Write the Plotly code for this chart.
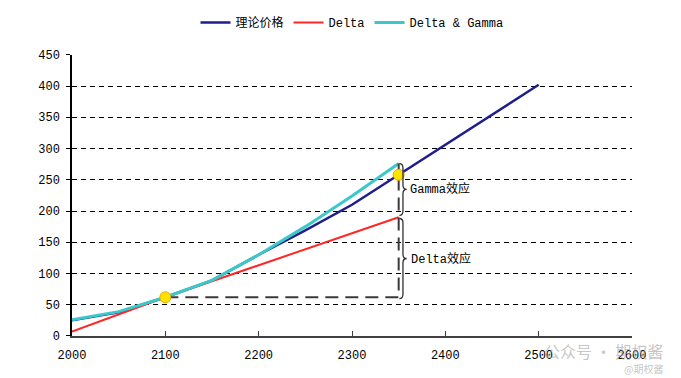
import plotly.graph_objects as go

# ---- data ----
x_theory = [2000, 2050, 2100, 2150, 2200, 2250, 2300, 2350, 2400, 2450, 2500]
y_theory = [25, 38, 62, 89, 130, 169, 210, 258, 305, 354, 402]

x_delta = [2000, 2100, 2350]
y_delta = [7, 62, 190]

x_dg = [2000, 2050, 2100, 2150, 2200, 2250, 2300, 2350]
y_dg = [26, 39, 62, 89, 130, 175, 224, 276]

x_base = 2100          # reference price point
x_move = 2350          # moved price point
y_ticks = [0, 50, 100, 150, 200, 250, 300, 350, 400, 450]
x_ticks = [2000, 2100, 2200, 2300, 2400, 2500, 2600]

names = ["理论价格", "Delta", "Delta & Gamma"]
colors = ["#1E1E8C", "#FF2626", "#3CC8CA"]

FONT = "Liberation Mono, Noto Sans CJK SC, monospace"

base_val = y_theory[x_theory.index(x_base)]
move_val = y_theory[x_theory.index(x_move)]
delta_end = y_delta[-1]
dg_end = y_dg[-1]

fig = go.Figure()
fig.add_trace(go.Scatter(x=x_theory, y=y_theory, mode="lines", name=names[0],
                         line=dict(color=colors[0], width=2.5)))
fig.add_trace(go.Scatter(x=x_delta, y=y_delta, mode="lines", name=names[1],
                         line=dict(color=colors[1], width=2)))
fig.add_trace(go.Scatter(x=x_dg, y=y_dg, mode="lines", name=names[2],
                         line=dict(color=colors[2], width=3)))

# dashed guide lines
fig.add_trace(go.Scatter(x=[x_base, x_move, x_move], y=[base_val, base_val, dg_end],
                         mode="lines", showlegend=False, hoverinfo="skip",
                         line=dict(color="#3A3A3A", width=2, dash="13px,7px")))

# yellow points
fig.add_trace(go.Scatter(x=[x_base, x_move], y=[base_val, move_val], mode="markers",
                         showlegend=False,
                         marker=dict(color="#FFE400", size=11,
                                     line=dict(color="#F0A500", width=1))))

# curly braces built from data values
def brace(top, bot):
    x0 = x_move + 0.8
    x1 = x_move + 4.6
    x2 = x_move + 8.6
    mid = (top + bot) / 2
    r = 7
    return (f"M {x0},{top} Q {x1},{top} {x1},{top - r} "
            f"L {x1},{mid + r} Q {x1},{mid} {x2},{mid} "
            f"Q {x1},{mid} {x1},{mid - r} "
            f"L {x1},{bot + r} Q {x1},{bot} {x0},{bot}")

fig.add_shape(type="path", path=brace(dg_end, delta_end + 3), xref="x", yref="y",
              line=dict(color="#303030", width=1.3))
fig.add_shape(type="path", path=brace(delta_end - 2, base_val - 2), xref="x", yref="y",
              line=dict(color="#303030", width=1.3))

fig.add_annotation(x=x_move + 8.6, y=(dg_end + delta_end + 3) / 2, text="Gamma效应",
                   showarrow=False, xanchor="left", xshift=1,
                   font=dict(family=FONT, size=12, color="#000000"))
fig.add_annotation(x=x_move + 8.6, y=(delta_end - 2 + base_val - 2) / 2, text="Delta效应",
                   showarrow=False, xanchor="left", xshift=2,
                   font=dict(family=FONT, size=12, color="#000000"))

# watermark
fig.add_annotation(xref="paper", yref="paper", x=1.059, y=-0.055, text="公众号 · 期权酱",
                   showarrow=False, xanchor="right", yanchor="middle",
                   font=dict(family="Noto Sans CJK SC", size=16, color="rgba(160,160,160,0.6)"))
fig.add_annotation(xref="paper", yref="paper", x=1.059, y=-0.117, text="@期权酱",
                   showarrow=False, xanchor="right", yanchor="middle",
                   font=dict(family="Noto Sans CJK SC", size=10, color="rgba(160,160,160,0.6)"))

# the page body adds an 8px offset, so the figure is sized to fit the window
fig.update_layout(
    width=673, height=370,
    margin=dict(l=64, r=49, t=37, b=42),
    paper_bgcolor="white", plot_bgcolor="white",
    font=dict(family=FONT, size=12, color="#000000"),
    showlegend=True,
    legend=dict(orientation="h", x=0.5, xanchor="center", y=1.0, yanchor="top",
                yref="container", font=dict(family=FONT, size=12), itemwidth=30,
                tracegroupgap=0, bgcolor="rgba(0,0,0,0)"),
    xaxis=dict(range=[2000, 2600], tickvals=x_ticks, showgrid=False, zeroline=False,
               showline=True, linecolor="#404040", linewidth=1.5,
               ticks="inside", ticklen=5, tickcolor="#404040",
               ticklabelstandoff=7, tickfont=dict(size=12)),
    yaxis=dict(range=[0, 450], tickvals=y_ticks, showgrid=True, gridcolor="#000000",
               gridwidth=1, griddash="5px,4px", zeroline=False,
               showline=True, linecolor="#000000", linewidth=1.5,
               ticks="outside", ticklen=4, tickcolor="#000000",
               ticklabelstandoff=4, tickfont=dict(size=12)),
)

fig.write_html("out.html")
